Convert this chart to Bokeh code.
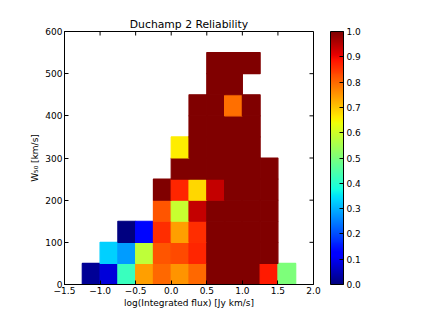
import numpy as np
from bokeh.plotting import figure
from bokeh.models import (LinearColorMapper, ColorBar, FixedTicker,
                          ColumnDataSource, Range1d, PrintfTickFormatter)
from bokeh.embed import file_html
from bokeh.resources import INLINE

# ---- data ----
title = "Duchamp 2 Reliability"
x_label = "log(Integrated flux) [Jy km/s]"
y_label = "W\u2085\u2080 [km/s]"
x_bin_left = [-1.25, -1.0, -0.75, -0.5, -0.25, 0.0, 0.25, 0.5, 0.75, 1.0, 1.25, 1.5]
x_bin_width = 0.25
y_bin_bottom = [0, 50, 100, 150, 200, 250, 300, 350, 400, 450, 500]
y_bin_height = 50
N = None
reliability = [
    [0.02, 0.08, 0.42, 0.74, 0.80, 0.75, 0.80, 1.0, 1.0, 1.0, 0.88, 0.50],
    [N, 0.33, 0.28, 0.58, 0.82, 0.83, 0.87, 1.0, 1.0, 1.0, 1.0, N],
    [N, N, 0.0, 0.13, 0.86, 0.74, 0.86, 1.0, 1.0, 1.0, 1.0, N],
    [N, N, N, N, 0.82, 0.59, 0.94, 1.0, 1.0, 1.0, 1.0, N],
    [N, N, N, N, 1.0, 0.87, 0.68, 0.94, 1.0, 1.0, 1.0, N],
    [N, N, N, N, N, 1.0, 1.0, 1.0, 1.0, 1.0, 1.0, N],
    [N, N, N, N, N, 0.66, 1.0, 1.0, 1.0, 1.0, N, N],
    [N, N, N, N, N, N, 1.0, 1.0, 1.0, 1.0, N, N],
    [N, N, N, N, N, N, 1.0, 1.0, 0.79, 1.0, N, N],
    [N, N, N, N, N, N, N, 1.0, 1.0, N, N, N],
    [N, N, N, N, N, N, N, 1.0, 1.0, 1.0, N, N],
]
x_ticks = [-1.5, -1.0, -0.5, 0.0, 0.5, 1.0, 1.5, 2.0]
y_ticks = [0, 100, 200, 300, 400, 500, 600]
cb_ticks = [0.0, 0.1, 0.2, 0.3, 0.4, 0.5, 0.6, 0.7, 0.8, 0.9, 1.0]

# ---- jet palette ----
def jet(n=256):
    t = np.linspace(0, 1, n)
    r = np.interp(t, [0, 0.35, 0.66, 0.89, 1], [0, 0, 1, 1, 0.5])
    g = np.interp(t, [0, 0.125, 0.375, 0.64, 0.91, 1], [0, 0, 1, 1, 0, 0])
    b = np.interp(t, [0, 0.11, 0.34, 0.65, 1], [0.5, 1, 1, 0, 0])
    return ["#%02x%02x%02x" % (int(round(rr * 255)), int(round(gg * 255)), int(round(bb * 255)))
            for rr, gg, bb in zip(r, g, b)]

palette = jet()
mapper = LinearColorMapper(palette=palette, low=0, high=1)

left, right, bottom, top, val = [], [], [], [], []
for j, row in enumerate(reliability):
    for i, v in enumerate(row):
        if v is None:
            continue
        left.append(x_bin_left[i])
        right.append(x_bin_left[i] + x_bin_width)
        bottom.append(y_bin_bottom[j])
        top.append(y_bin_bottom[j] + y_bin_height)
        val.append(v)
src = ColumnDataSource(dict(left=left, right=right, bottom=bottom, top=top, val=val))

FONT = "DejaVu Sans"
x0, x1 = x_ticks[0], x_ticks[-1]
y0, y1 = y_ticks[0], y_ticks[-1]
p = figure(output_backend="svg", toolbar_location=None,
           width=408, height=312,
           x_range=Range1d(x0, x1), y_range=Range1d(y0, y1),
           min_border_left=64, min_border_right=95, min_border_top=31, min_border_bottom=28,
           title=title, background_fill_color="white", border_fill_color="white")
p.quad(left="left", right="right", bottom="bottom", top="top", source=src,
       fill_color={"field": "val", "transform": mapper},
       line_color={"field": "val", "transform": mapper}, line_width=1.2)

p.title.align = "center"
p.title.text_font = FONT
p.title.text_font_size = "10.8px"
p.title.text_font_style = "normal"
p.title.text_color = "black"
p.title.offset = 0
p.title.standoff = 2
p.grid.visible = False
p.outline_line_color = "black"
p.outline_line_width = 1

def style_axis(ax, ticks):
    ax.ticker = FixedTicker(ticks=ticks)
    ax.major_tick_in = 4
    ax.major_tick_out = 0
    ax.minor_tick_in = 0
    ax.minor_tick_out = 0
    ax.axis_line_color = "black"
    ax.major_tick_line_color = "black"
    ax.major_label_text_font = FONT
    ax.major_label_text_font_size = "9px"
    ax.major_label_text_color = "black"
    ax.axis_label_text_font = FONT
    ax.axis_label_text_font_size = "9px"
    ax.axis_label_text_font_style = "normal"
    ax.axis_label_text_color = "black"
    ax.axis_label_standoff = 2
    ax.major_label_standoff = 2

style_axis(p.xaxis[0], x_ticks)
style_axis(p.yaxis[0], y_ticks)
p.xaxis[0].axis_label = x_label
p.yaxis[0].axis_label = y_label
p.xaxis[0].axis_label_standoff = 1
p.xaxis[0].major_label_overrides = {t: ("%.1f" % t).replace("-", "\u2212") for t in x_ticks}

# matplotlib-style inward ticks on top and right edges
p.ray(x=x_ticks, y=[y1] * len(x_ticks), length=4, length_units="screen",
      angle=-np.pi / 2, line_color="black", line_width=1)
p.ray(x=[x1] * len(y_ticks), y=y_ticks, length=4, length_units="screen",
      angle=np.pi, line_color="black", line_width=1)

cb = ColorBar(color_mapper=mapper, ticker=FixedTicker(ticks=cb_ticks),
              formatter=PrintfTickFormatter(format="%.1f"),
              width=13, height=253, padding=0, margin=0, location=(17, 0),
              bar_line_color="black", major_tick_line_color="black",
              major_tick_in=4, major_tick_out=0, minor_tick_line_color=None,
              major_label_text_font=FONT, major_label_text_font_size="9px",
              major_label_text_color="black",
              label_standoff=3, background_fill_color=None, border_line_color=None)
p.add_layout(cb, "right")

open("out.html", "w").write(file_html(p, INLINE))
